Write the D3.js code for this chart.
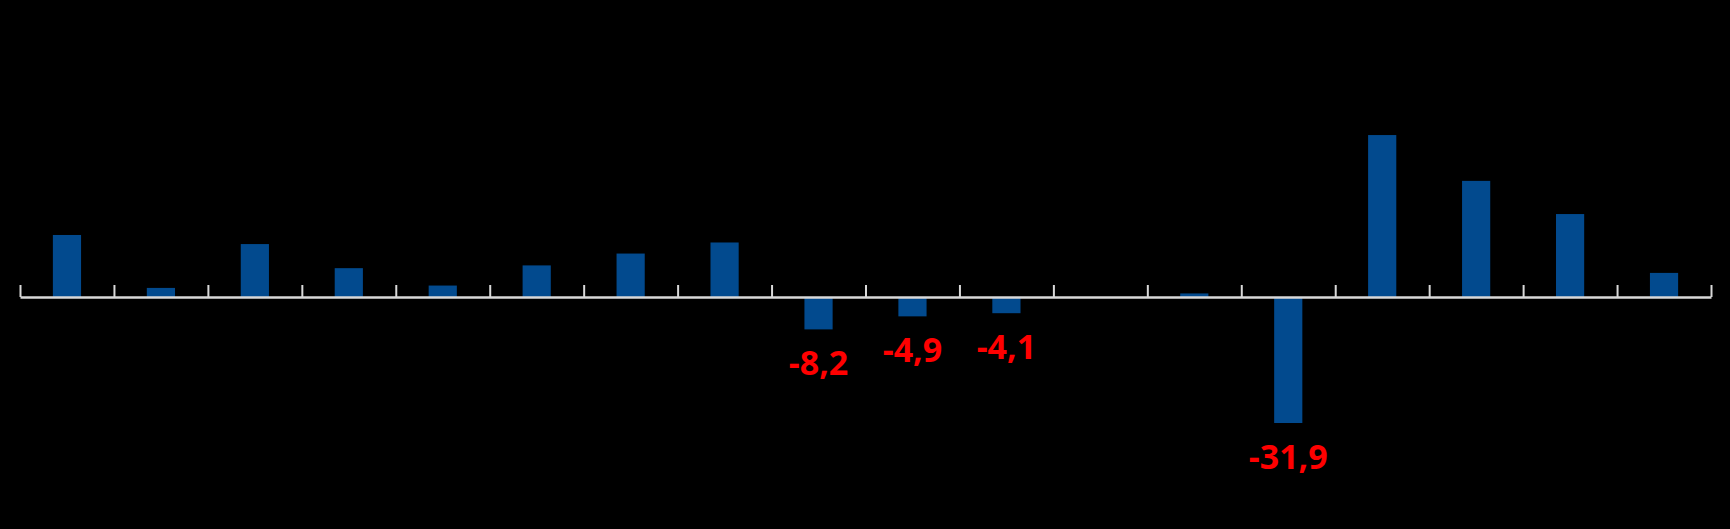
<!DOCTYPE html>
<html>
<head>
<meta charset="utf-8">
<script src="https://cdn.jsdelivr.net/npm/d3@7"></script>
<style>
  html, body { margin: 0; padding: 0; background: #000; }
  svg { display: block; }
</style>
</head>
<body>
<svg id="drawing_region"></svg>
<script>
// categories are not visible in the picture (black on black), so plain indices
const categories = d3.range(1, 19).map(String);
const values = [15.7, 2.3, 13.4, 7.3, 2.9, 8.0, 11.0, 13.8, -8.2, -4.9, -4.1, 0, 0.9, -31.9, 41.0, 29.4, 21.0, 6.1];
const labels = ["", "", "", "", "", "", "", "", "-8,2", "-4,9", "-4,1", "", "", "-31,9", "", "", "", ""];

const config = {
    parent: '#drawing_region',
    width: 1730,
    height: 529,
    margin: {top: 0, right: 19, bottom: 0, left: 20}
};

const svg = d3.select(config.parent)
    .attr('width', config.width)
    .attr('height', config.height);

const x = d3.scaleBand()
    .domain(categories)
    .range([config.margin.left, config.width - config.margin.right])
    .paddingInner(0.7)
    .paddingOuter(0.35);

const y = d3.scaleLinear()
    .domain([-40, 50])
    .range([455, 99.5]);

// boundary ticks between categories
const xEdge = d3.scaleLinear()
    .domain([0, categories.length])
    .range([config.margin.left, config.width - config.margin.right]);

svg.append('g')
    .selectAll('rect')
    .data(values)
    .join('rect')
    .attr('x', (d, i) => x(categories[i]))
    .attr('width', x.bandwidth())
    .attr('y', d => y(Math.max(0, d)))
    .attr('height', d => Math.abs(y(d) - y(0)))
    .attr('fill', '#024a8e');

const axis = svg.append('g')
    .attr('transform', `translate(0, ${y(0)})`)
    .call(d3.axisTop(xEdge)
        .ticks(categories.length)
        .tickFormat('')
        .tickSizeInner(12)
        .tickSizeOuter(0));
axis.select('.domain').attr('stroke', '#d9d9d9').attr('stroke-width', 2.5);
axis.selectAll('.tick line').attr('stroke', '#d9d9d9').attr('stroke-width', 2);

svg.append('g')
    .selectAll('text')
    .data(values)
    .join('text')
    .attr('x', (d, i) => x(categories[i]) + x.bandwidth() / 2)
    .attr('y', d => y(d) + 46)
    .attr('text-anchor', 'middle')
    .attr('font-family', 'Open Sans, sans-serif')
    .attr('font-weight', 'bold')
    .attr('font-size', 34)
    .attr('fill', '#ff0000')
    .text((d, i) => labels[i]);
</script>
</body>
</html>
